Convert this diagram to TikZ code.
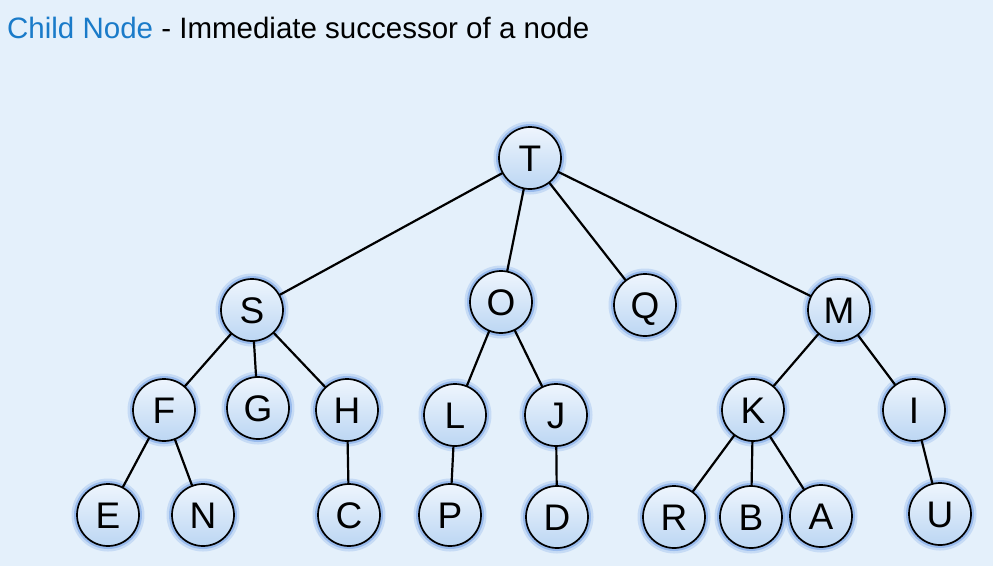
\documentclass[tikz,border=0pt]{standalone}
\usepackage{fontspec}
\setmainfont{Liberation Sans}
\definecolor{bgblue}{HTML}{E4F0FB}
\definecolor{titleblue}{HTML}{1A7BC9}
\definecolor{nodetop}{HTML}{EEF5FD}
\definecolor{nodebot}{HTML}{BCD6F3}
\definecolor{glowblue}{HTML}{6E9DE6}
\begin{document}
\begin{tikzpicture}[x=1pt,y=-1pt,line join=round,line cap=round,
    vertex/.style={circle,draw=black,line width=1.7pt,minimum size=62pt,inner sep=0pt,
      top color=nodetop,bottom color=nodebot,
      font=\fontsize{37}{37}\selectfont,text height=26.5pt,text depth=0pt,
      preaction={draw=glowblue,line width=11pt,opacity=0.25},
      preaction={draw=glowblue,line width=6pt,opacity=0.5}},
    link/.style={line width=2.2pt}]
  \fill[bgblue] (0,0) rectangle (993,566);
  \useasboundingbox (0,0) rectangle (993,566);
  \node[anchor=base west,inner sep=0pt,font=\fontsize{29.5}{32}\selectfont] (title) at (7,38)
    {\textcolor{titleblue}{Child Node} - Immediate successor of a node};
  % tree
  \foreach \n/\x/\y in {T/530/158,
      S/252/310,O/501/302,Q/645/305,M/839/310,
      F/164/410,G/258/408,H/347/410,L/455/415,J/556/415,K/753/410,I/914/410,
      E/108/515,N/203/515,C/349/515,P/450/515,D/557/517,R/674/517,B/751/517,A/821/516,U/940/514}
    \node[vertex] (\n) at (\x,\y) {\n};
  \foreach \a/\b in {T/S,T/O,T/Q,T/M,S/F,S/G,S/H,F/E,F/N,H/C,O/L,O/J,L/P,J/D,M/K,M/I,K/R,K/B,K/A,I/U}
    \draw[link] (\a) -- (\b);
\end{tikzpicture}
\end{document}
